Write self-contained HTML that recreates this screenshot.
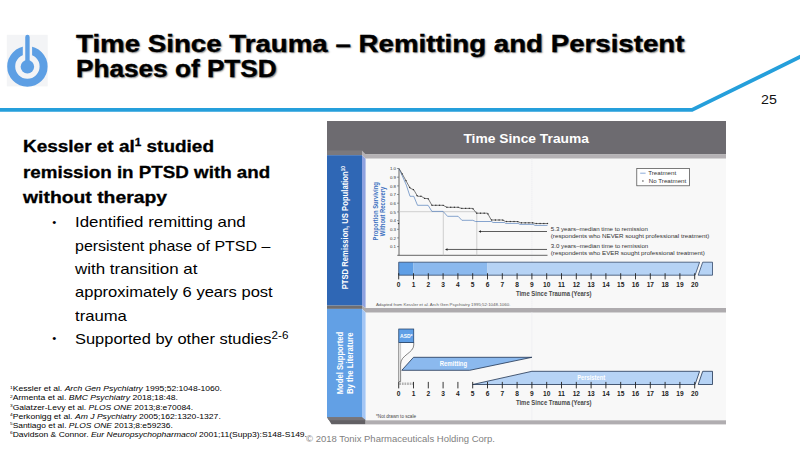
<!DOCTYPE html>
<html lang="en">
<head>
<meta charset="utf-8">
<title>Time Since Trauma</title>
<style>
html,body{margin:0;padding:0;background:#fff;}
body{width:800px;height:449px;position:relative;overflow:hidden;font-family:"Liberation Sans", sans-serif;}
.t{position:absolute;white-space:nowrap;line-height:normal;transform-origin:0 0;margin:0;padding:0;}
.t sup{font-size:71%;line-height:0;vertical-align:baseline;position:relative;top:-0.5em;}
.t.fn sup{font-size:56%;top:-0.62em;}
.t.hd sup{font-size:62%;top:-0.56em;}
svg{position:absolute;left:0;top:0;}
svg text{font-family:"Liberation Sans", sans-serif;}
</style>
</head>
<body>
<svg width="800" height="449" viewBox="0 0 800 449">
<rect x="6.8" y="34.8" width="40.9" height="51.6" fill="#f3f4f6"/>
<circle cx="27.4" cy="66.5" r="16.2" fill="none" stroke="#5d9fe4" stroke-width="8"/>
<rect x="22.8" y="40" width="9.3" height="20" fill="#f3f4f6"/>
<circle cx="27.4" cy="66.8" r="6.75" fill="#5d9fe4"/>
<path d="M27.45 37 V66" stroke="#5d9fe4" stroke-width="4.4" stroke-linecap="round" fill="none"/>
<path d="M0 109.9 H692 L801 56.4" fill="none" stroke="#259fdb" stroke-width="3.8" stroke-linejoin="miter"/>
</svg>
<svg width="800" height="449" viewBox="0 0 800 449">
<rect x="327" y="121" width="399" height="33.4" fill="#6d6b70"/>
<rect x="327" y="150.4" width="35" height="4.8" fill="#7b797d"/>
<polygon points="362,150.4 365.6,154.2 726,154.2 726,158.7 365.6,158.7 362,155.2" fill="#b4b1b4"/>
<rect x="365.6" y="158.7" width="360.4" height="149.4" fill="#f8f8f8"/>
<rect x="365.6" y="312.5" width="360.4" height="107.8" fill="#f8f8f8"/>
<rect x="327" y="155.2" width="35" height="150.4" fill="#2f67b5"/>
<polygon points="362,155.2 365.6,158.7 365.6,308.1 362,305.6" fill="#8ea2e0"/>
<rect x="327" y="305.6" width="35" height="3.3" fill="#6f6e70"/>
<polygon points="362,305.6 365.6,308.1 726,308.1 726,312.5 365.6,312.5 362,308.9" fill="#aeabae"/>
<rect x="327" y="308.9" width="35" height="108.4" fill="#62a0e5"/>
<polygon points="362,308.9 365.6,312.5 365.6,420.3 362,417.3" fill="#a3c6f5"/>
<polygon points="327,417.3 362,417.3 365.6,420.3 365.6,424.3 331.5,424.3" fill="#626064"/>
<polygon points="327,417.3 362,417.3 365.6,420.3 329,420.3" fill="#77757a"/>
<rect x="365.6" y="420.3" width="360.4" height="4.1" fill="#b0adb0"/>
<text x="526.2" y="143.3" text-anchor="middle" font-size="12.5" font-weight="700" fill="#fff" textLength="125.5" lengthAdjust="spacingAndGlyphs">Time Since Trauma</text>
<text transform="translate(347.5,227.7) rotate(-90)" text-anchor="middle" font-size="9" font-weight="700" fill="#fff" textLength="123.2" lengthAdjust="spacingAndGlyphs">PTSD Remission, US Population<tspan font-size="5.5" dy="-3">10</tspan></text>
<text transform="translate(342.8,363) rotate(-90)" text-anchor="middle" font-size="8.6" font-weight="700" fill="#fff" textLength="62.5" lengthAdjust="spacingAndGlyphs">Model Supported</text>
<text transform="translate(353,363.3) rotate(-90)" text-anchor="middle" font-size="8.6" font-weight="700" fill="#fff" textLength="61.5" lengthAdjust="spacingAndGlyphs">By the Literature</text>
<path d="M531.9 158.7V308.1M531.9 312.5V420.3" stroke="#e9e9ee" stroke-width="1" stroke-dasharray="1 1"/>
<path d="M399 168.5V255.3M397.3 255.3H547.5" fill="none" stroke="#555" stroke-width="0.9"/>
<text x="396" y="248.2" text-anchor="end" font-size="4.4" fill="#333">0.1</text>
<path d="M397 246.6H399" stroke="#555" stroke-width="0.6"/>
<text x="396" y="239.5" text-anchor="end" font-size="4.4" fill="#333">0.2</text>
<path d="M397 237.9H399" stroke="#555" stroke-width="0.6"/>
<text x="396" y="230.9" text-anchor="end" font-size="4.4" fill="#333">0.3</text>
<path d="M397 229.3H399" stroke="#555" stroke-width="0.6"/>
<text x="396" y="222.2" text-anchor="end" font-size="4.4" fill="#333">0.4</text>
<path d="M397 220.6H399" stroke="#555" stroke-width="0.6"/>
<text x="396" y="213.5" text-anchor="end" font-size="4.4" fill="#333">0.5</text>
<path d="M397 211.9H399" stroke="#555" stroke-width="0.6"/>
<text x="396" y="204.8" text-anchor="end" font-size="4.4" fill="#333">0.6</text>
<path d="M397 203.2H399" stroke="#555" stroke-width="0.6"/>
<text x="396" y="196.1" text-anchor="end" font-size="4.4" fill="#333">0.7</text>
<path d="M397 194.5H399" stroke="#555" stroke-width="0.6"/>
<text x="396" y="187.5" text-anchor="end" font-size="4.4" fill="#333">0.8</text>
<path d="M397 185.9H399" stroke="#555" stroke-width="0.6"/>
<text x="396" y="178.8" text-anchor="end" font-size="4.4" fill="#333">0.9</text>
<path d="M397 177.2H399" stroke="#555" stroke-width="0.6"/>
<text x="396" y="170.1" text-anchor="end" font-size="4.4" fill="#333">1.0</text>
<path d="M397 168.5H399" stroke="#555" stroke-width="0.6"/>
<text transform="translate(377.8,211.3) rotate(-90)" text-anchor="middle" font-size="6.7" font-weight="700" fill="#3b70c0" textLength="58.2" lengthAdjust="spacingAndGlyphs">Proportion Surviving</text>
<text transform="translate(385.0,211.4) rotate(-90)" text-anchor="middle" font-size="6.7" font-weight="700" fill="#3b70c0" textLength="49.5" lengthAdjust="spacingAndGlyphs">Without Recovery</text>
<path d="M399 211.7H476.8M443.3 211.7V255.3M476.8 211.7V255.3" fill="none" stroke="#bdbdbd" stroke-width="0.7"/>
<polyline points="399.0,168.5 406.3,185.0 410.0,196.3 413.8,196.3 417.5,205.3 428.1,205.3 431.9,211.4 443.1,211.4 447.5,216.3 458.1,216.3 461.9,220.3 472.8,220.3 475.6,221.5 491.3,221.5 493.1,222.5 504.4,222.5 505.6,223.4 518.1,223.4 520.0,224.4 533.1,224.4 535.0,225.4 547.5,225.4" fill="none" stroke="#5580bb" stroke-width="0.7"/>
<polyline points="399.0,168.5 402.5,174.4 406.3,181.3 410.0,188.1 413.8,189.8 417.5,196.3 421.3,196.3 424.8,198.5 428.1,198.5 431.9,205.3 443.1,205.3 446.9,207.3 458.1,207.3 461.3,208.4 472.7,208.4 476.5,213.2 487.5,213.2 491.3,220.0 502.5,220.0 505.6,221.5 517.5,221.5 520.6,222.8 532.5,222.8 535.6,223.5 547.5,223.5" fill="none" stroke="#444" stroke-width="0.7"/>
<g fill="#333"><rect x="397.9" y="222.9" width="1.2" height="1.2"/><rect x="401.6" y="173.3" width="1.2" height="1.2"/><rect x="405.4" y="180.1" width="1.2" height="1.2"/><rect x="409.1" y="186.9" width="1.2" height="1.2"/><rect x="412.8" y="189.0" width="1.2" height="1.2"/><rect x="416.5" y="195.0" width="1.2" height="1.2"/><rect x="420.3" y="195.7" width="1.2" height="1.2"/><rect x="424.0" y="197.8" width="1.2" height="1.2"/><rect x="427.7" y="198.3" width="1.2" height="1.2"/><rect x="431.4" y="204.7" width="1.2" height="1.2"/><rect x="435.2" y="204.7" width="1.2" height="1.2"/><rect x="438.9" y="204.7" width="1.2" height="1.2"/><rect x="442.6" y="204.8" width="1.2" height="1.2"/><rect x="446.3" y="206.7" width="1.2" height="1.2"/><rect x="450.1" y="206.7" width="1.2" height="1.2"/><rect x="453.8" y="206.7" width="1.2" height="1.2"/><rect x="457.5" y="206.7" width="1.2" height="1.2"/><rect x="461.2" y="207.8" width="1.2" height="1.2"/><rect x="465.0" y="207.8" width="1.2" height="1.2"/><rect x="468.7" y="207.8" width="1.2" height="1.2"/><rect x="472.4" y="208.2" width="1.2" height="1.2"/><rect x="476.1" y="212.6" width="1.2" height="1.2"/><rect x="479.9" y="212.6" width="1.2" height="1.2"/><rect x="483.6" y="212.6" width="1.2" height="1.2"/><rect x="487.3" y="213.3" width="1.2" height="1.2"/><rect x="491.0" y="219.4" width="1.2" height="1.2"/><rect x="494.8" y="219.4" width="1.2" height="1.2"/><rect x="498.5" y="219.4" width="1.2" height="1.2"/><rect x="502.2" y="219.5" width="1.2" height="1.2"/><rect x="505.9" y="220.9" width="1.2" height="1.2"/><rect x="509.7" y="220.9" width="1.2" height="1.2"/><rect x="513.4" y="220.9" width="1.2" height="1.2"/><rect x="517.1" y="221.0" width="1.2" height="1.2"/><rect x="520.8" y="222.2" width="1.2" height="1.2"/><rect x="524.6" y="222.2" width="1.2" height="1.2"/><rect x="528.3" y="222.2" width="1.2" height="1.2"/><rect x="532.0" y="222.2" width="1.2" height="1.2"/><rect x="535.7" y="222.9" width="1.2" height="1.2"/><rect x="539.5" y="222.9" width="1.2" height="1.2"/><rect x="543.2" y="222.9" width="1.2" height="1.2"/><rect x="546.9" y="222.9" width="1.2" height="1.2"/></g>
<path d="M480 231.5H547M446.5 249.45H547" stroke="#333" stroke-width="0.8"/>
<polygon points="478.5,231.5 481,230.3 481,232.7" fill="#222"/><polygon points="445,249.45 447.5,248.2 447.5,250.7" fill="#222"/>
<text x="550.8" y="231.0" font-size="5.6" fill="#333" textLength="97.0" lengthAdjust="spacingAndGlyphs">5.3 years–median time to remission</text>
<text x="550.8" y="237.6" font-size="5.6" fill="#333" textLength="158.5" lengthAdjust="spacingAndGlyphs">(respondents who NEVER sought professional treatment)</text>
<text x="550.8" y="248.2" font-size="5.6" fill="#333" textLength="97.5" lengthAdjust="spacingAndGlyphs">3.0 years–median time to remission</text>
<text x="550.8" y="254.9" font-size="5.6" fill="#333" textLength="154.0" lengthAdjust="spacingAndGlyphs">(respondents who EVER sought professional treatment)</text>
<rect x="636.8" y="168.4" width="52.8" height="17.4" fill="#fff" stroke="#444" stroke-width="0.7"/>
<path d="M640.2 173.2H645.6" stroke="#6f97cf" stroke-width="0.8"/>
<rect x="642.3" y="180.4" width="1.2" height="1.2" fill="#333"/>
<text x="648.2" y="175.1" font-size="5.4" fill="#333" textLength="28" lengthAdjust="spacingAndGlyphs">Treatment</text>
<text x="648.8" y="182.9" font-size="5.4" fill="#333" textLength="37.5" lengthAdjust="spacingAndGlyphs">No Treatment</text>
<rect x="398.7" y="262.2" width="14.8" height="13.0" fill="#5f9fe6"/>
<rect x="413.5" y="262.2" width="74.0" height="13.0" fill="#8bb9ee"/>
<polygon points="487.5,262.2 699.6,262.2 695.1,275.2 487.5,275.2" fill="#b6d3f5"/>
<polygon points="398.7,262.2 699.6,262.2 695.1,275.2 398.7,275.2" fill="none" stroke="#34496b" stroke-width="0.8"/>
<polygon points="702.7,262.2 712.5,262.2 712.5,275.2 698.2,275.2" fill="#b6d3f5" stroke="#34496b" stroke-width="0.8"/>
<path d="M398.7 273.2V279.4M413.5 273.2V279.4M428.3 273.2V279.4M443.1 273.2V279.4M457.9 273.2V279.4M472.7 273.2V279.4M487.5 273.2V279.4M502.3 273.2V279.4M517.1 273.2V279.4M531.9 273.2V279.4M546.7 273.2V279.4M561.5 273.2V279.4M576.3 273.2V279.4M591.1 273.2V279.4M605.9 273.2V279.4M620.7 273.2V279.4M635.5 273.2V279.4M650.3 273.2V279.4M665.1 273.2V279.4M679.9 273.2V279.4M694.7 273.2V279.4" stroke="#222" stroke-width="0.9"/>
<text x="398.7" y="286.8" text-anchor="middle" font-size="6.6" font-weight="700" fill="#222">0</text>
<text x="413.5" y="286.8" text-anchor="middle" font-size="6.6" font-weight="700" fill="#222">1</text>
<text x="428.3" y="286.8" text-anchor="middle" font-size="6.6" font-weight="700" fill="#222">2</text>
<text x="443.1" y="286.8" text-anchor="middle" font-size="6.6" font-weight="700" fill="#222">3</text>
<text x="457.9" y="286.8" text-anchor="middle" font-size="6.6" font-weight="700" fill="#222">4</text>
<text x="472.7" y="286.8" text-anchor="middle" font-size="6.6" font-weight="700" fill="#222">5</text>
<text x="487.5" y="286.8" text-anchor="middle" font-size="6.6" font-weight="700" fill="#222">6</text>
<text x="502.3" y="286.8" text-anchor="middle" font-size="6.6" font-weight="700" fill="#222">7</text>
<text x="517.1" y="286.8" text-anchor="middle" font-size="6.6" font-weight="700" fill="#222">8</text>
<text x="531.9" y="286.8" text-anchor="middle" font-size="6.6" font-weight="700" fill="#222">9</text>
<text x="546.7" y="286.8" text-anchor="middle" font-size="6.6" font-weight="700" fill="#222">10</text>
<text x="561.5" y="286.8" text-anchor="middle" font-size="6.6" font-weight="700" fill="#222">11</text>
<text x="576.3" y="286.8" text-anchor="middle" font-size="6.6" font-weight="700" fill="#222">12</text>
<text x="591.1" y="286.8" text-anchor="middle" font-size="6.6" font-weight="700" fill="#222">13</text>
<text x="605.9" y="286.8" text-anchor="middle" font-size="6.6" font-weight="700" fill="#222">14</text>
<text x="620.7" y="286.8" text-anchor="middle" font-size="6.6" font-weight="700" fill="#222">15</text>
<text x="635.5" y="286.8" text-anchor="middle" font-size="6.6" font-weight="700" fill="#222">16</text>
<text x="650.3" y="286.8" text-anchor="middle" font-size="6.6" font-weight="700" fill="#222">17</text>
<text x="665.1" y="286.8" text-anchor="middle" font-size="6.6" font-weight="700" fill="#222">18</text>
<text x="679.9" y="286.8" text-anchor="middle" font-size="6.6" font-weight="700" fill="#222">19</text>
<text x="694.7" y="286.8" text-anchor="middle" font-size="6.6" font-weight="700" fill="#222">20</text>
<text x="553.7" y="296.2" text-anchor="middle" font-size="6.4" font-weight="700" fill="#4a4a4a" textLength="75.5" lengthAdjust="spacingAndGlyphs">Time Since Trauma (Years)</text>
<text x="375.9" y="305.9" font-size="4.3" fill="#5a5a5a" textLength="134.5" lengthAdjust="spacingAndGlyphs">Adapted from Kessler et al. Arch Gen Psychiatry 1995;52:1048-1060.</text>
<path d="M398.75 342.5H413.75V345C413.75 353 400.6 355 400.6 364V381.6H398.75Z" fill="#fcfcfc" stroke="#333" stroke-width="0.6"/>
<path d="M400.6 342.5V364" stroke="#777" stroke-width="0.4" fill="none"/>
<rect x="398.75" y="329" width="15" height="13.5" fill="#5f9fe6" stroke="#1d3a60" stroke-width="0.7"/>
<text x="406.3" y="338" text-anchor="middle" font-size="5.6" font-weight="700" fill="#fff" textLength="12.5" lengthAdjust="spacingAndGlyphs">ASD*</text>
<polygon points="401.8,370.3 413.5,357.3 531.9,357.3 469.7,370.3" fill="#8bb9ee" stroke="#1f3352" stroke-width="0.8"/>
<text x="453.4" y="365.9" text-anchor="middle" font-size="6.6" font-weight="700" fill="#fff" textLength="27.5" lengthAdjust="spacingAndGlyphs">Remitting</text>
<polygon points="472.7,384.5 531.9,371.3 699.6,371.3 695.1,384.5" fill="#b6d3f5" stroke="#1f3352" stroke-width="0.8"/>
<polygon points="702.7,371.3 712.5,371.3 712.5,384.5 698.2,384.5" fill="#b6d3f5" stroke="#1f3352" stroke-width="0.8"/>
<text x="591.2" y="379.9" text-anchor="middle" font-size="6.6" font-weight="700" fill="#fff" textLength="28" lengthAdjust="spacingAndGlyphs">Persistent</text>
<path d="M399.3 383.7H413.1" stroke="#b2b2b2" stroke-width="2.5" stroke-dasharray="1.7 0.9"/>
<path d="M398.7 381.9V388.4M413.5 381.9V388.4M428.3 381.9V388.4M443.1 381.9V388.4M457.9 381.9V388.4M472.7 381.9V388.4M487.5 381.9V388.4M502.3 381.9V388.4M517.1 381.9V388.4M531.9 381.9V388.4M546.7 381.9V388.4M561.5 381.9V388.4M576.3 381.9V388.4M591.1 381.9V388.4M605.9 381.9V388.4M620.7 381.9V388.4M635.5 381.9V388.4M650.3 381.9V388.4M665.1 381.9V388.4M679.9 381.9V388.4M694.7 381.9V388.4" stroke="#222" stroke-width="0.9"/>
<text x="398.7" y="395.7" text-anchor="middle" font-size="6.6" font-weight="700" fill="#222">0</text>
<text x="413.5" y="395.7" text-anchor="middle" font-size="6.6" font-weight="700" fill="#222">1</text>
<text x="428.3" y="395.7" text-anchor="middle" font-size="6.6" font-weight="700" fill="#222">2</text>
<text x="443.1" y="395.7" text-anchor="middle" font-size="6.6" font-weight="700" fill="#222">3</text>
<text x="457.9" y="395.7" text-anchor="middle" font-size="6.6" font-weight="700" fill="#222">4</text>
<text x="472.7" y="395.7" text-anchor="middle" font-size="6.6" font-weight="700" fill="#222">5</text>
<text x="487.5" y="395.7" text-anchor="middle" font-size="6.6" font-weight="700" fill="#222">6</text>
<text x="502.3" y="395.7" text-anchor="middle" font-size="6.6" font-weight="700" fill="#222">7</text>
<text x="517.1" y="395.7" text-anchor="middle" font-size="6.6" font-weight="700" fill="#222">8</text>
<text x="531.9" y="395.7" text-anchor="middle" font-size="6.6" font-weight="700" fill="#222">9</text>
<text x="546.7" y="395.7" text-anchor="middle" font-size="6.6" font-weight="700" fill="#222">10</text>
<text x="561.5" y="395.7" text-anchor="middle" font-size="6.6" font-weight="700" fill="#222">11</text>
<text x="576.3" y="395.7" text-anchor="middle" font-size="6.6" font-weight="700" fill="#222">12</text>
<text x="591.1" y="395.7" text-anchor="middle" font-size="6.6" font-weight="700" fill="#222">13</text>
<text x="605.9" y="395.7" text-anchor="middle" font-size="6.6" font-weight="700" fill="#222">14</text>
<text x="620.7" y="395.7" text-anchor="middle" font-size="6.6" font-weight="700" fill="#222">15</text>
<text x="635.5" y="395.7" text-anchor="middle" font-size="6.6" font-weight="700" fill="#222">16</text>
<text x="650.3" y="395.7" text-anchor="middle" font-size="6.6" font-weight="700" fill="#222">17</text>
<text x="665.1" y="395.7" text-anchor="middle" font-size="6.6" font-weight="700" fill="#222">18</text>
<text x="679.9" y="395.7" text-anchor="middle" font-size="6.6" font-weight="700" fill="#222">19</text>
<text x="694.7" y="395.7" text-anchor="middle" font-size="6.6" font-weight="700" fill="#222">20</text>
<text x="553.7" y="404.5" text-anchor="middle" font-size="6.4" font-weight="700" fill="#4a4a4a" textLength="75.5" lengthAdjust="spacingAndGlyphs">Time Since Trauma (Years)</text>
<text x="376" y="418.4" font-size="4.5" fill="#444" textLength="40" lengthAdjust="spacingAndGlyphs">*Not drawn to scale</text>
</svg>
<div class="t title" id="t0" style="left:75.50px;top:30.74px;font-size:23.60px;font-weight:700;color:#000;transform:scaleX(1.1729);text-shadow:1px 1px 1.5px rgba(0,0,0,.5);-webkit-text-stroke:0.35px #000;">Time Since Trauma &ndash; Remitting and Persistent</div>
<div class="t title" id="t1" style="left:75.50px;top:55.64px;font-size:23.60px;font-weight:700;color:#000;transform:scaleX(1.1091);text-shadow:1px 1px 1.5px rgba(0,0,0,.5);-webkit-text-stroke:0.35px #000;">Phases of PTSD</div>
<div class="t hd" id="t2" style="left:23.40px;top:136.77px;font-size:16.50px;font-weight:700;color:#000;transform:scaleX(1.1493);-webkit-text-stroke:0.3px #000;">Kessler et al<sup>1</sup> studied</div>
<div class="t" id="t3" style="left:23.40px;top:162.57px;font-size:16.50px;font-weight:700;color:#000;transform:scaleX(1.1377);-webkit-text-stroke:0.3px #000;">remission in PTSD with and</div>
<div class="t" id="t4" style="left:23.40px;top:188.17px;font-size:16.50px;font-weight:700;color:#000;transform:scaleX(1.1730);-webkit-text-stroke:0.3px #000;">without therapy</div>
<div class="t" id="t5" style="left:75.20px;top:214.39px;font-size:14.60px;font-weight:400;color:#000;transform:scaleX(1.1561);">Identified remitting and</div>
<div class="t" id="t6" style="left:75.20px;top:237.99px;font-size:14.60px;font-weight:400;color:#000;transform:scaleX(1.0943);">persistent phase of PTSD &ndash;</div>
<div class="t" id="t7" style="left:75.20px;top:261.29px;font-size:14.60px;font-weight:400;color:#000;transform:scaleX(1.1607);">with transition at</div>
<div class="t" id="t8" style="left:75.20px;top:284.39px;font-size:14.60px;font-weight:400;color:#000;transform:scaleX(1.1336);">approximately 6 years post</div>
<div class="t" id="t9" style="left:75.20px;top:307.69px;font-size:14.60px;font-weight:400;color:#000;transform:scaleX(1.1426);">trauma</div>
<div class="t" id="t10" style="left:75.20px;top:331.09px;font-size:14.60px;font-weight:400;color:#000;transform:scaleX(1.1271);">Supported by other studies<sup>2-6</sup></div>
<div class="t" id="t11" style="left:52.30px;top:215.79px;font-size:11.50px;font-weight:400;color:#000;">&bull;</div>
<div class="t" id="t12" style="left:52.30px;top:332.49px;font-size:11.50px;font-weight:400;color:#000;">&bull;</div>
<div class="t fn" id="t13" style="left:10.00px;top:384.47px;font-size:7.60px;font-weight:400;color:#000;transform:scaleX(1.1293);"><sup>1</sup>Kessler et al. <i>Arch Gen Psychiatry</i> 1995;52:1048-1060.</div>
<div class="t fn" id="t14" style="left:10.00px;top:393.47px;font-size:7.60px;font-weight:400;color:#000;transform:scaleX(1.1350);"><sup>2</sup>Armenta et al. <i>BMC Psychiatry</i> 2018;18:48.</div>
<div class="t fn" id="t15" style="left:10.00px;top:402.57px;font-size:7.60px;font-weight:400;color:#000;transform:scaleX(1.1166);"><sup>3</sup>Galatzer-Levy et al. <i>PLOS ONE</i> 2013;8:e70084.</div>
<div class="t fn" id="t16" style="left:10.00px;top:411.57px;font-size:7.60px;font-weight:400;color:#000;transform:scaleX(1.1331);"><sup>4</sup>Perkonigg et al. <i>Am J Psychiatry</i> 2005;162:1320-1327.</div>
<div class="t fn" id="t17" style="left:10.00px;top:420.67px;font-size:7.60px;font-weight:400;color:#000;transform:scaleX(1.1091);"><sup>5</sup>Santiago et al. <i>PLOS ONE</i> 2013;8:e59236.</div>
<div class="t fn" id="t18" style="left:10.00px;top:429.67px;font-size:7.60px;font-weight:400;color:#000;transform:scaleX(1.1233);"><sup>6</sup>Davidson &amp; Connor. <i>Eur Neuropsychopharmacol</i> 2001;11(Supp3):S148-S149.</div>
<div class="t" id="t19" style="left:306.00px;top:434.14px;font-size:8.80px;font-weight:400;color:#7f7f7f;transform:scaleX(1.0792);">&copy; 2018 Tonix Pharmaceuticals Holding Corp.</div>
<div class="t" id="t20" style="left:760.60px;top:92.15px;font-size:13.20px;font-weight:400;color:#111;transform:scaleX(1.0769);">25</div>
</body>
</html>
